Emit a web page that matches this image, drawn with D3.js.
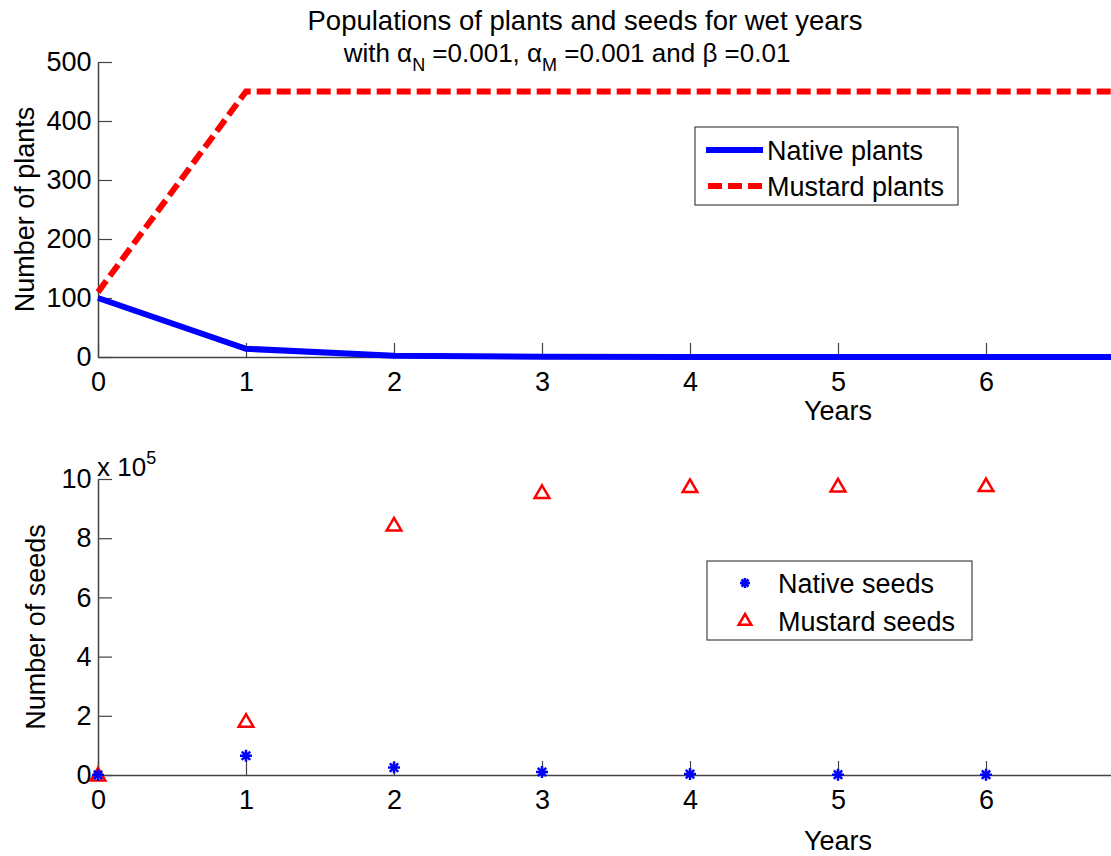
<!DOCTYPE html>
<html>
<head>
<meta charset="utf-8">
<script src="https://cdn.jsdelivr.net/npm/d3@7"></script>
<style>
  body { margin: 0; background: #fff; }
  svg { display: block; }
  text { font-family: "Liberation Sans", Arial, sans-serif; fill: #000; }
</style>
</head>
<body>
<svg id="chart"></svg>
<script>
// data
const years = [0, 1, 2, 3, 4, 5, 6, 7, 8, 9, 10];
const nativePlants = [100, 14, 2, 0.3, 0, 0, 0, 0, 0, 0, 0];
const mustardPlants = [110, 450, 450, 450, 450, 450, 450, 450, 450, 450, 450];

const seedYears = [0, 1, 2, 3, 4, 5, 6];
const nativeSeeds = [0, 0.65, 0.25, 0.1, 0.03, 0.01, 0.01];   // x 10^5
const mustardSeeds = [0, 1.82, 8.45, 9.55, 9.75, 9.77, 9.78]; // x 10^5

const plantTicks = [0, 100, 200, 300, 400, 500];
const seedTicks = [0, 2, 4, 6, 8, 10];
const yearTicks = [0, 1, 2, 3, 4, 5, 6];

const width = 1111, height = 856;
const axisColor = "#444";
const fs = 27;

const svg = d3.select("#chart")
	.attr("width", width)
	.attr("height", height);

// x axis runs to year 10, the right part falls outside the picture
const x = d3.scaleLinear().domain([0, 10]).range([98, 1578]);
const yTop = d3.scaleLinear().domain([0, 500]).range([357, 62]);
const yBot = d3.scaleLinear().domain([0, 10]).range([775, 479]);

function drawAxes(y, ticks) {
	const g = svg.append("g");
	const xAxis = d3.axisBottom(x).tickValues(yearTicks).tickSizeInner(-14).tickSizeOuter(0).tickPadding(22);
	const yAxis = d3.axisLeft(y).tickValues(ticks).tickSizeInner(-14).tickSizeOuter(0).tickPadding(20);

	g.append("g")
		.attr("transform", `translate(0,${y.range()[0]})`)
		.call(xAxis)
		.call(s => s.select(".domain").attr("stroke", axisColor).attr("stroke-width", 1.5))
		.call(s => s.selectAll(".tick line").attr("stroke", axisColor).attr("stroke-width", 1.2))
		.call(s => s.selectAll(".tick text").attr("font-size", fs).attr("dy", "0.45em")
			.style("font-family", '"Liberation Sans", Arial, sans-serif').attr("fill", "#000"));

	g.append("g")
		.attr("transform", `translate(${x(0)},0)`)
		.call(yAxis)
		.call(s => s.select(".domain").attr("stroke", axisColor).attr("stroke-width", 1.5))
		.call(s => s.selectAll(".tick line").attr("stroke", axisColor).attr("stroke-width", 1.2))
		.call(s => s.selectAll(".tick text").attr("font-size", fs).attr("dx", "0.5em")
			.style("font-family", '"Liberation Sans", Arial, sans-serif').attr("fill", "#000"));
	return g;
}

// top panel
drawAxes(yTop, plantTicks);

const lineTop = d3.line()
	.x((d, i) => x(years[i]))
	.y(d => yTop(d));

svg.append("path")
	.datum(nativePlants)
	.attr("d", lineTop)
	.attr("fill", "none")
	.attr("stroke", "#0000ff")
	.attr("stroke-width", 6);

svg.append("path")
	.datum(mustardPlants)
	.attr("d", lineTop)
	.attr("fill", "none")
	.attr("stroke", "#ff0000")
	.attr("stroke-width", 6)
	.attr("stroke-dasharray", "14,6");

// title
svg.append("text")
	.attr("x", 585)
	.attr("y", 30)
	.attr("text-anchor", "middle")
	.attr("font-size", 27.5)
	.text("Populations of plants and seeds for wet years");

const sub = svg.append("text")
	.attr("x", 567)
	.attr("y", 62)
	.attr("text-anchor", "middle")
	.attr("font-size", 26);
sub.append("tspan").text("with \u03b1");
sub.append("tspan").attr("font-size", 18).attr("dy", 9).text("N");
sub.append("tspan").attr("dy", -9).text(" =0.001, \u03b1");
sub.append("tspan").attr("font-size", 18).attr("dy", 9).text("M");
sub.append("tspan").attr("dy", -9).text(" =0.001 and \u03b2 =0.01");

svg.append("text")
	.attr("transform", `translate(34,${(yTop(0) + yTop(500)) / 2}) rotate(-90)`)
	.attr("text-anchor", "middle")
	.attr("font-size", fs)
	.text("Number of plants");

svg.append("text")
	.attr("x", (x(0) + x(10)) / 2)
	.attr("y", 420)
	.attr("text-anchor", "middle")
	.attr("font-size", fs)
	.text("Years");

// top legend
const legTop = svg.append("g").attr("transform", "translate(695,127)");
legTop.append("rect")
	.attr("width", 263).attr("height", 78)
	.attr("fill", "#fff").attr("stroke", axisColor).attr("stroke-width", 1.2);
legTop.append("line")
	.attr("x1", 11).attr("x2", 68).attr("y1", 23).attr("y2", 23)
	.attr("stroke", "#0000ff").attr("stroke-width", 6);
legTop.append("text").attr("x", 72).attr("y", 33).attr("font-size", fs).text("Native plants");
legTop.append("line")
	.attr("x1", 13).attr("x2", 68).attr("y1", 59).attr("y2", 59)
	.attr("stroke", "#ff0000").attr("stroke-width", 6).attr("stroke-dasharray", "14,6");
legTop.append("text").attr("x", 72).attr("y", 69).attr("font-size", fs).text("Mustard plants");

// bottom panel
drawAxes(yBot, seedTicks);

function starPath(r) {
	const p = d3.path();
	p.moveTo(0, -r); p.lineTo(0, r);
	p.moveTo(-r, 0); p.lineTo(r, 0);
	const q = r * 0.7;
	p.moveTo(-q, -q); p.lineTo(q, q);
	p.moveTo(-q, q); p.lineTo(q, -q);
	return p.toString();
}

function trianglePath(r) {
	const p = d3.path();
	p.moveTo(0, -r);
	p.lineTo(r * 1.05, r * 0.8);
	p.lineTo(-r * 1.05, r * 0.8);
	p.closePath();
	return p.toString();
}

svg.append("g").selectAll("path")
	.data(mustardSeeds)
	.join("path")
	.attr("transform", (d, i) => `translate(${x(seedYears[i])},${yBot(d)})`)
	.attr("d", trianglePath(7))
	.attr("fill", "none")
	.attr("stroke", "#ff0000")
	.attr("stroke-width", 2.5);

svg.append("g").selectAll("path")
	.data(nativeSeeds)
	.join("path")
	.attr("transform", (d, i) => `translate(${x(seedYears[i])},${yBot(d)})`)
	.attr("d", starPath(6))
	.attr("fill", "none")
	.attr("stroke", "#0000ff")
	.attr("stroke-width", 2.5);

// exponent label
const expo = svg.append("text")
	.attr("x", 97)
	.attr("y", 476)
	.attr("font-size", 26);
expo.append("tspan").text("x 10");
expo.append("tspan").attr("font-size", 18).attr("dy", -12).text("5");

svg.append("text")
	.attr("transform", `translate(45,${(yBot(0) + yBot(10)) / 2}) rotate(-90)`)
	.attr("text-anchor", "middle")
	.attr("font-size", fs)
	.text("Number of seeds");

svg.append("text")
	.attr("x", (x(0) + x(10)) / 2)
	.attr("y", 850)
	.attr("text-anchor", "middle")
	.attr("font-size", fs)
	.text("Years");

// bottom legend
const legBot = svg.append("g").attr("transform", "translate(707,561)");
legBot.append("rect")
	.attr("width", 265).attr("height", 79)
	.attr("fill", "#fff").attr("stroke", axisColor).attr("stroke-width", 1.2);
legBot.append("path")
	.attr("transform", "translate(38,22)")
	.attr("d", starPath(5))
	.attr("fill", "none").attr("stroke", "#0000ff").attr("stroke-width", 2.5);
legBot.append("text").attr("x", 71).attr("y", 32).attr("font-size", fs).text("Native seeds");
legBot.append("path")
	.attr("transform", "translate(38,59)")
	.attr("d", trianglePath(6))
	.attr("fill", "none").attr("stroke", "#ff0000").attr("stroke-width", 2.5);
legBot.append("text").attr("x", 71).attr("y", 70).attr("font-size", fs).text("Mustard seeds");
</script>
</body>
</html>
